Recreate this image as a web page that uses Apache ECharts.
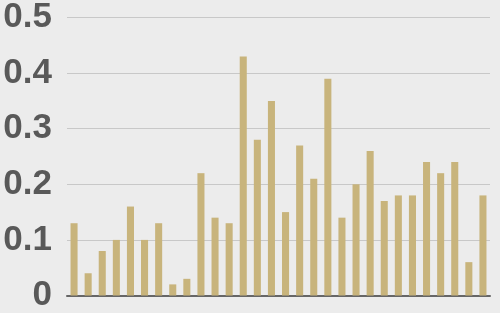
<!DOCTYPE html>
<html><head><meta charset="utf-8">
<script src="https://cdn.jsdelivr.net/npm/echarts@6/dist/echarts.min.js"></script>
<style>html,body{margin:0;padding:0;background:#ececec;overflow:hidden}#c{width:500px;height:313px}</style>
</head><body><div id="c"></div>
<script>
const categories = Array.from({length:30},(_, i)=>String(i+1));
const values = [0.13,0.04,0.08,0.10,0.16,0.10,0.13,0.02,0.03,0.22,0.14,0.13,0.43,0.28,0.35,0.15,0.27,0.21,0.39,0.14,0.20,0.26,0.17,0.18,0.18,0.24,0.22,0.24,0.06,0.18];
const yTicks = {min:0, max:0.5, interval:0.1};
const chart = echarts.init(document.getElementById('c'), null, {renderer:'canvas'});
chart.setOption({
  backgroundColor:'#ececec',
  animation:false,
  grid:{left:67, right:10, top:14.5, bottom:14.5, containLabel:false},
  xAxis:{type:'category', data:categories,
    axisLine:{lineStyle:{color:'#666', width:2}}, axisTick:{show:false}, axisLabel:{show:false}},
  yAxis:{type:'value', min:yTicks.min, max:yTicks.max, interval:yTicks.interval,
    axisLine:{show:false}, axisTick:{show:false},
    splitLine:{lineStyle:{color:'#c8c8c8', width:1}},
    axisLabel:{margin:15, color:'#595959', fontSize:35, fontWeight:'bold', fontFamily:'Liberation Sans, Arial, sans-serif',
      formatter:v=>v===0?'0':String(Math.round(v*10)/10)}},
  series:[{type:'bar', data:values, barWidth:'50%', itemStyle:{color:'#c8b47c'}}]
});
</script></body></html>
